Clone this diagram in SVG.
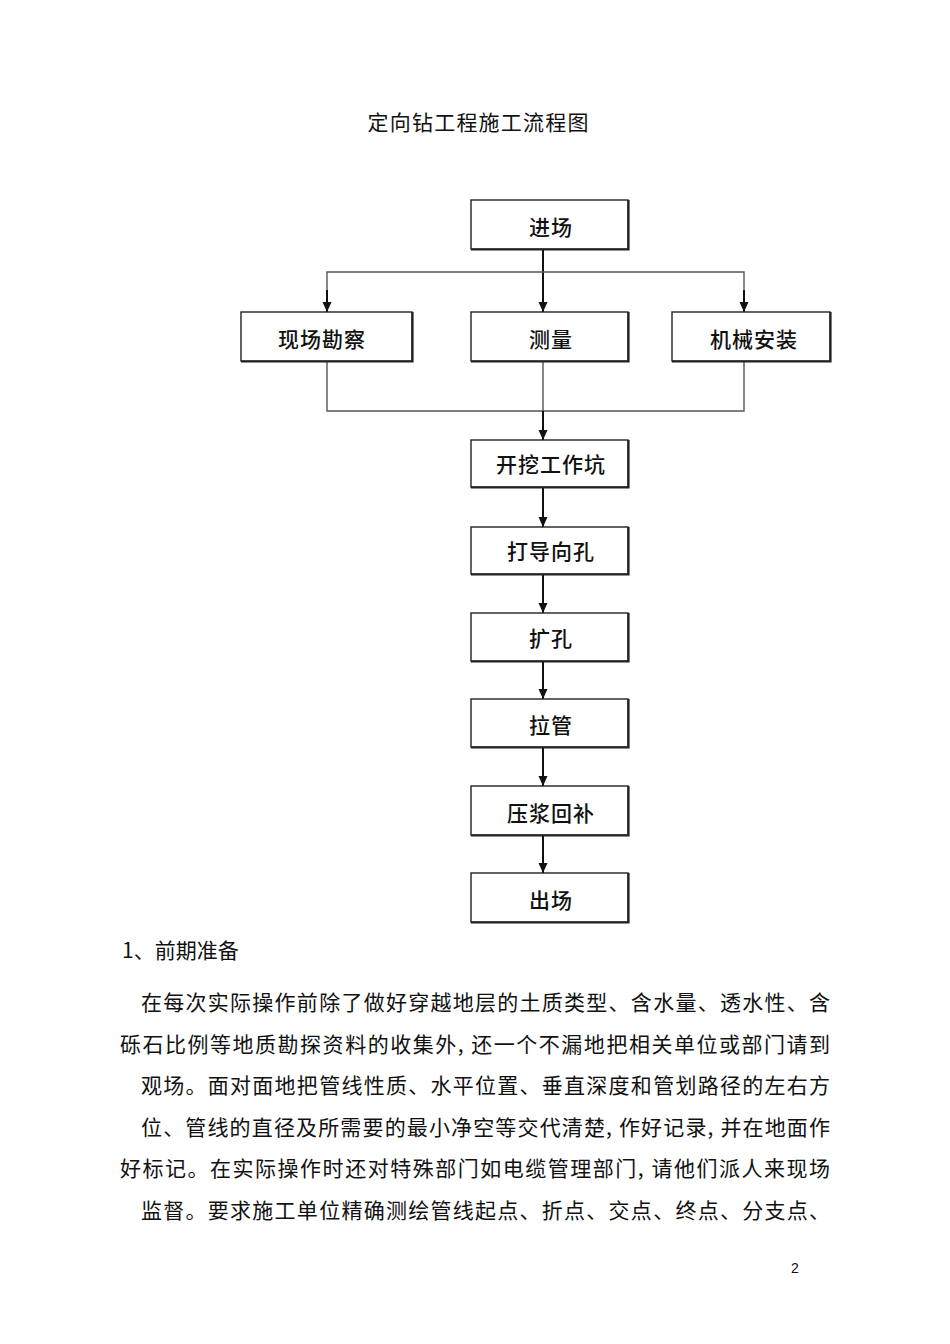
<svg xmlns="http://www.w3.org/2000/svg" width="950" height="1344" viewBox="0 0 950 1344">
<style>
.box{fill:#fff;stroke:#222;stroke-width:1.4}
.sh{fill:none;stroke:#222;stroke-width:2.2}
.bt{font-family:"Noto Sans CJK SC","Noto Sans",sans-serif;font-size:21px;font-weight:500;fill:#111;text-anchor:middle;letter-spacing:1px}
.ln{fill:none;stroke:#555;stroke-width:1.4}
.ar{fill:none;stroke:#111;stroke-width:2}
.tx{font-family:"Noto Sans CJK SC","Noto Sans",sans-serif;font-size:21px;fill:#111}
</style>
<defs>
<marker id="ah" markerWidth="10" markerHeight="10" viewBox="0 0 10 10" refX="10" refY="5" orient="auto" markerUnits="userSpaceOnUse">
<path d="M0,0.5 L10,5 L0,9.5 Z" fill="#111"/>
</marker>
</defs>
<rect width="950" height="1344" fill="#fff"/>
<text x="478" y="130" class="tx" text-anchor="middle" textLength="221" lengthAdjust="spacing">定向钻工程施工流程图</text>

<g id="connectors">
<line class="ar" x1="543" y1="250" x2="543" y2="312" marker-end="url(#ah)"/>
<polyline class="ln" points="327,312 327,272 744,272 744,312"/>
<line class="ar" x1="327" y1="290" x2="327" y2="312" marker-end="url(#ah)"/>
<line class="ar" x1="744" y1="290" x2="744" y2="312" marker-end="url(#ah)"/>
<polyline class="ln" points="327,362 327,411 744,411 744,362"/>
<line class="ln" x1="543" y1="362" x2="543" y2="411"/>
<line class="ar" x1="543" y1="411" x2="543" y2="440" marker-end="url(#ah)"/>
<line class="ar" x1="543" y1="488" x2="543" y2="527" marker-end="url(#ah)"/>
<line class="ar" x1="543" y1="575" x2="543" y2="613" marker-end="url(#ah)"/>
<line class="ar" x1="543" y1="662" x2="543" y2="699" marker-end="url(#ah)"/>
<line class="ar" x1="543" y1="748" x2="543" y2="786" marker-end="url(#ah)"/>
<line class="ar" x1="543" y1="836" x2="543" y2="873" marker-end="url(#ah)"/>
</g>

<g id="n1"><rect class="box" x="471" y="200" width="157" height="49"/><polyline class="sh" points="628.5,200 628.5,249.5 471,249.5"/><text class="bt" x="551" y="235">进场</text></g>
<g id="n2"><rect class="box" x="241" y="312" width="171" height="49"/><polyline class="sh" points="412.5,312 412.5,361.5 241,361.5"/><text class="bt" x="322" y="347">现场勘察</text></g>
<g id="n3"><rect class="box" x="471" y="312" width="157" height="49"/><polyline class="sh" points="628.5,312 628.5,361.5 471,361.5"/><text class="bt" x="551" y="347">测量</text></g>
<g id="n4"><rect class="box" x="672" y="312" width="158" height="49"/><polyline class="sh" points="830.5,312 830.5,361.5 672,361.5"/><text class="bt" x="754" y="347">机械安装</text></g>
<g id="n5"><rect class="box" x="471" y="440" width="157" height="47"/><polyline class="sh" points="628.5,440 628.5,487.5 471,487.5"/><text class="bt" x="551" y="472">开挖工作坑</text></g>
<g id="n6"><rect class="box" x="471" y="527" width="157" height="47"/><polyline class="sh" points="628.5,527 628.5,574.5 471,574.5"/><text class="bt" x="551" y="559">打导向孔</text></g>
<g id="n7"><rect class="box" x="471" y="613" width="157" height="48"/><polyline class="sh" points="628.5,613 628.5,661.5 471,661.5"/><text class="bt" x="551" y="646">扩孔</text></g>
<g id="n8"><rect class="box" x="471" y="699" width="157" height="48"/><polyline class="sh" points="628.5,699 628.5,747.5 471,747.5"/><text class="bt" x="551" y="733">拉管</text></g>
<g id="n9"><rect class="box" x="471" y="786" width="157" height="49"/><polyline class="sh" points="628.5,786 628.5,835.5 471,835.5"/><text class="bt" x="551" y="821">压浆回补</text></g>
<g id="n10"><rect class="box" x="471" y="873" width="157" height="49"/><polyline class="sh" points="628.5,873 628.5,922.5 471,922.5"/><text class="bt" x="551" y="908">出场</text></g>

<g id="body">
<text class="tx" x="122" y="958">1、前期准备</text>
<text class="tx" x="141" y="1010" textLength="689" lengthAdjust="spacing">在每次实际操作前除了做好穿越地层的土质类型、含水量、透水性、含</text>
<text class="tx" x="120" y="1052" textLength="710" lengthAdjust="spacing">砾石比例等地质勘探资料的收集外, 还一个不漏地把相关单位或部门请到</text>
<text class="tx" x="141" y="1093" textLength="689" lengthAdjust="spacing">观场。面对面地把管线性质、水平位置、垂直深度和管划路径的左右方</text>
<text class="tx" x="141" y="1135" textLength="689" lengthAdjust="spacing">位、管线的直径及所需要的最小净空等交代清楚, 作好记录, 并在地面作</text>
<text class="tx" x="120" y="1176" textLength="710" lengthAdjust="spacing">好标记。在实际操作时还对特殊部门如电缆管理部门, 请他们派人来现场</text>
<text class="tx" x="141" y="1218" textLength="689" lengthAdjust="spacing">监督。要求施工单位精确测绘管线起点、折点、交点、终点、分支点、</text>
<text x="795" y="1273" font-family="'Liberation Sans',Arial,sans-serif" font-size="14" fill="#111" text-anchor="middle">2</text>
</g>
</svg>
